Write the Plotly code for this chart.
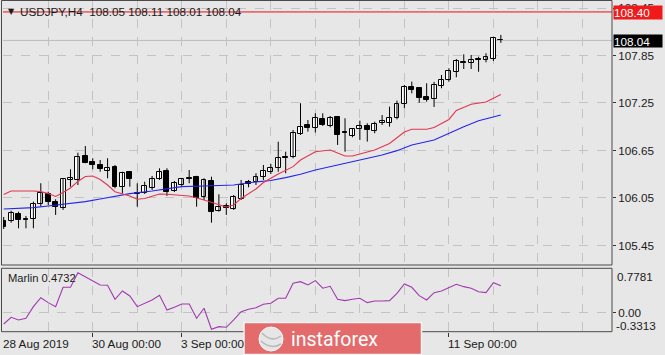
import plotly.graph_objects as go

# ---------------- data ----------------
symbol = "USDJPY,H4"
bar_index = list(range(68))

opens = [105.764, 105.760, 105.848, 105.781, 105.785, 105.974, 106.097, 106.004, 105.920, 106.278,
         106.278, 106.581, 106.509, 106.467, 106.395, 106.446, 106.193, 106.375, 106.105, 106.117,
         106.173, 106.286, 106.385, 106.142, 106.211, 106.305, 106.319, 106.067, 106.265, 105.886,
         105.949, 105.908, 106.034, 106.246, 106.256, 106.312, 106.375, 106.433, 106.566, 106.572,
         106.859, 106.972, 106.931, 107.044, 106.960, 107.077, 106.878, 106.833, 106.918, 106.960,
         106.901, 106.994, 107.001, 107.057, 107.238, 107.448, 107.435, 107.329, 107.301, 107.471,
         107.537, 107.646, 107.774, 107.752, 107.802, 107.793, 107.806, 108.05]
highs = [105.810, 105.890, 105.877, 105.823, 106.004, 106.236, 106.130, 106.034, 106.299, 106.413,
         106.622, 106.707, 106.552, 106.530, 106.552, 106.467, 106.382, 106.382, 106.236, 106.256,
         106.328, 106.425, 106.425, 106.265, 106.303, 106.404, 106.330, 106.299, 106.319, 106.097,
         105.983, 106.088, 106.278, 106.278, 106.362, 106.467, 106.480, 106.761, 106.635, 106.909,
         107.247, 107.035, 107.120, 107.120, 107.086, 107.085, 107.057, 106.931, 107.027, 106.994,
         107.014, 107.098, 107.204, 107.280, 107.478, 107.520, 107.440, 107.499, 107.516, 107.604,
         107.689, 107.806, 107.865, 107.856, 107.835, 107.878, 108.087, 108.11]
lows = [105.659, 105.738, 105.667, 105.667, 105.667, 105.940, 105.962, 105.836, 105.899, 106.193,
        106.214, 106.489, 106.413, 106.382, 106.299, 106.173, 106.110, 106.193, 105.940, 106.101,
        106.151, 106.278, 106.076, 106.126, 106.202, 106.236, 105.940, 106.025, 105.738, 105.877,
        105.836, 105.899, 106.025, 106.185, 106.214, 106.278, 106.353, 106.382, 106.362, 106.552,
        106.846, 106.889, 106.877, 106.960, 106.943, 106.720, 106.635, 106.817, 106.783, 106.762,
        106.868, 106.972, 106.951, 107.044, 107.183, 107.372, 107.254, 107.267, 107.200, 107.436,
        107.520, 107.575, 107.679, 107.679, 107.645, 107.764, 107.781, 108.01]
closes = [105.680, 105.865, 105.772, 105.769, 105.974, 106.110, 106.004, 105.940, 106.286, 106.299,
          106.572, 106.496, 106.467, 106.413, 106.425, 106.193, 106.370, 106.286, 106.117, 106.202,
          106.286, 106.382, 106.126, 106.236, 106.286, 106.293, 106.046, 106.278, 105.877, 105.940,
          105.920, 106.059, 106.214, 106.233, 106.312, 106.391, 106.425, 106.552, 106.553, 106.868,
          106.951, 106.931, 107.057, 106.972, 107.057, 106.846, 106.865, 106.918, 106.960, 106.910,
          106.985, 107.027, 107.057, 107.238, 107.456, 107.414, 107.309, 107.288, 107.478, 107.541,
          107.658, 107.785, 107.761, 107.793, 107.787, 107.827, 108.067, 108.04]

ma_fast_idx = [0, 1, 4, 5, 6, 7, 8, 9, 10, 11, 12, 13, 14, 15, 17, 18, 19, 21, 22, 24, 25, 27, 28,
               30, 31, 32, 34, 35, 37, 39, 40, 42, 44, 46, 47, 50, 52, 54, 55, 57, 58, 60, 61, 63,
               65, 66, 67]
ma_fast = [106.093, 106.139, 106.139, 106.130, 106.107, 106.069, 106.120, 106.177, 106.259, 106.322,
           106.328, 106.284, 106.214, 106.130, 106.076, 106.034, 106.044, 106.101, 106.097, 106.088,
           106.076, 106.025, 105.993, 105.937, 105.962, 106.044, 106.164, 106.246, 106.353, 106.446,
           106.530, 106.635, 106.656, 106.581, 106.581, 106.656, 106.738, 106.884, 106.918, 106.918,
           106.941, 107.042, 107.155, 107.234, 107.263, 107.309, 107.357]

ma_slow_idx = [0, 2, 4, 6, 8, 11, 13, 15, 17, 20, 22, 24, 27, 29, 31, 33, 36, 38, 40, 42, 44, 48,
               51, 53, 55, 58, 60, 62, 64, 67]
ma_slow = [105.911, 105.920, 105.928, 105.949, 105.970, 106.004, 106.038, 106.072, 106.105, 106.139,
           106.164, 106.193, 106.202, 106.211, 106.214, 106.243, 106.271, 106.307, 106.350, 106.404,
           106.446, 106.530, 106.593, 106.648, 106.720, 106.783, 106.868, 106.951, 107.027, 107.099]

marlin = [-0.196, -0.079, -0.126, -0.096, 0.107, 0.264, 0.177, 0.107, 0.446, 0.446,
          0.702, 0.632, 0.562, 0.486, 0.481, 0.236, 0.381, 0.294, 0.107, 0.166,
          0.224, 0.306, 0.049, 0.096, 0.154, 0.154, -0.096, 0.079, -0.289, -0.243,
          -0.254, -0.126, 0.019, 0.061, 0.089, 0.149, 0.166, 0.254, 0.254, 0.516,
          0.544, 0.486, 0.562, 0.429, 0.463, 0.236, 0.212, 0.236, 0.254, 0.177,
          0.206, 0.206, 0.212, 0.341, 0.504, 0.446, 0.299, 0.224, 0.352, 0.381,
          0.434, 0.499, 0.457, 0.429, 0.369, 0.352, 0.527, 0.4732]
marlin_max, marlin_min = 0.7781, -0.3313

price_ticks = [105.45, 106.05, 106.65, 107.25, 107.85, 108.45]
price_ticktext = ["105.45", "106.05", "106.65", "107.25", "107.85", "108.45"]
alert_level = 108.40
alert_text = "108.40"

# time-axis tick marks (every 2 trading days) and the labels visible in the reference
date_tick_idx = [12, 24, 36, 48, 60]
date_label_idx = [0, 12, 24, 60]
date_labels = ["28 Aug 2019", "30 Aug 00:00", "3 Sep 00:00", "11 Sep 00:00"]
grid_idx = [6, 12, 18, 24, 30, 36, 42, 48, 54, 60, 66, 72, 78]

# ---------------- layout helpers ----------------
W, H = 665, 355
def px(x):
    return x / W
def py(y):
    return 1 - y / H

BG = "#E7E7E7"
GRID = "#C3C3C3"
TXT = "#1A1A1A"
FONT = "Liberation Sans, Arial, sans-serif"
FS = 11.7

XR = [-0.094, 81.98]

fig = go.Figure()

# wicks
wx, wy = [], []
for i, h, l in zip(bar_index, highs, lows):
    wx += [i, i, None]
    wy += [l, h, None]
fig.add_trace(go.Scatter(x=wx, y=wy, mode="lines", line=dict(color="black", width=1),
                         hoverinfo="skip", xaxis="x", yaxis="y"))

# moving averages
fig.add_trace(go.Scatter(x=ma_slow_idx, y=ma_slow, mode="lines",
                         line=dict(color="#2525EE", width=1.1), hoverinfo="skip"))
fig.add_trace(go.Scatter(x=ma_fast_idx, y=ma_fast, mode="lines",
                         line=dict(color="#E43550", width=1.1), hoverinfo="skip"))

# bodies
base = [min(o, c) for o, c in zip(opens, closes)]
height = [max(abs(c - o), 0.012) for o, c in zip(opens, closes)]
colors = ["white" if c >= o else "black" for o, c in zip(opens, closes)]
fig.add_trace(go.Bar(x=bar_index, y=height, base=base, width=0.66,
                     marker=dict(color=colors, line=dict(color="black", width=1)),
                     hoverinfo="skip", xaxis="x", yaxis="y"))

# Marlin oscillator
fig.add_trace(go.Scatter(x=bar_index, y=marlin, mode="lines",
                         line=dict(color="#A03AAE", width=1.1), hoverinfo="skip",
                         xaxis="x2", yaxis="y2"))

main_top_px, main_bot_px = 1, 265
ind_top_px, ind_bot_px = 268.3, 331.7
p_per_px = 0.012632
y_top = 108.551 - p_per_px * main_top_px
y_bot = 108.551 - p_per_px * main_bot_px

fig.update_layout(
    width=W, height=H, margin=dict(l=0, r=0, t=0, b=0),
    paper_bgcolor=BG, plot_bgcolor=BG, showlegend=False, bargap=0,
    font=dict(family=FONT, size=FS, color=TXT),
    xaxis=dict(domain=[px(3), px(612)], range=XR, anchor="y", showticklabels=False,
               ticks="", tickmode="array", tickvals=grid_idx, showgrid=True, gridcolor=GRID,
               griddash="dash", gridwidth=1, zeroline=False, showline=False, fixedrange=True),
    xaxis2=dict(domain=[px(3), px(612)], range=XR, anchor="y2", matches="x",
                showticklabels=False, tickmode="array", tickvals=date_tick_idx,
                ticks="outside", ticklen=4, tickcolor="#333", tickwidth=1,
                showgrid=True, gridcolor=GRID, griddash="dash", gridwidth=1,
                minor=dict(tickmode="array", tickvals=[v for v in grid_idx if v not in date_tick_idx],
                           showgrid=True, gridcolor=GRID, griddash="dash", gridwidth=1, ticks=""),
                zeroline=False, showline=False, fixedrange=True),
    yaxis=dict(domain=[py(main_bot_px), py(main_top_px)], range=[y_bot, y_top], anchor="x",
               side="right", tickmode="array", tickvals=price_ticks, ticktext=price_ticktext,
               ticks="outside", ticklen=3, tickcolor="#333", showgrid=True, gridcolor=GRID,
               griddash="dash", gridwidth=1, zeroline=False, showline=False,
               tickfont=dict(family=FONT, size=FS, color=TXT), fixedrange=True),
    yaxis2=dict(domain=[py(ind_bot_px), py(ind_top_px)], range=[marlin_min, marlin_max],
                anchor="x2", side="right", tickmode="array", tickvals=[0], ticktext=["0.00"],
                ticks="outside", ticklen=3, tickcolor="#333", showgrid=True, gridcolor=GRID,
                griddash="dash", gridwidth=1, zeroline=False, showline=False,
                tickfont=dict(family=FONT, size=FS, color=TXT), fixedrange=True),
)

shapes = [
    dict(type="line", xref="paper", yref="y", x0=px(3), x1=px(612), y0=closes[-1], y1=closes[-1],
         line=dict(color="#BDBDBD", width=1), layer="below"),
    dict(type="line", xref="paper", yref="y", x0=px(3), x1=px(612), y0=alert_level, y1=alert_level,
         line=dict(color="#E8101A", width=1), layer="above"),
    dict(type="rect", xref="paper", yref="paper", x0=px(1.5), x1=px(612), y0=py(main_bot_px), y1=py(0.5),
         line=dict(color="#4A4A4A", width=1), layer="above"),
    dict(type="rect", xref="paper", yref="paper", x0=px(1.5), x1=px(612), y0=py(ind_bot_px), y1=py(ind_top_px),
         line=dict(color="#4A4A4A", width=1), layer="above"),
    # watermark banner and logo
    dict(type="rect", xref="paper", yref="paper", x0=px(244), x1=px(421.5), y0=py(354.5), y1=py(322.5),
         fillcolor="#E36B6C", line=dict(color="#F4F4F4", width=1.5), layer="above"),
    dict(type="circle", xref="paper", yref="paper", x0=px(259), x1=px(283), y0=py(351), y1=py(327),
         fillcolor="#E6E6E6", line=dict(color="#F6F6F6", width=1), layer="above"),
    dict(type="path", xref="paper", yref="paper",
         path=f"M {px(262)},{py(333)} Q {px(271)},{py(343)} {px(281)},{py(336)}",
         line=dict(color="#B9B9B9", width=1.5), layer="above"),
    dict(type="path", xref="paper", yref="paper",
         path=f"M {px(261)},{py(341)} Q {px(271)},{py(350)} {px(281)},{py(344)}",
         line=dict(color="#B9B9B9", width=1.5), layer="above"),
]
fig.update_layout(shapes=shapes)

ann = []
ann.append(dict(xref="paper", yref="paper", x=px(6), y=py(11.5), xanchor="left", yanchor="middle",
                text="▼", showarrow=False, font=dict(family="DejaVu Sans", size=8, color=TXT)))
title = f"{symbol}  {opens[-1]:.2f} {highs[-1]:.2f} {lows[-1]:.2f} {closes[-1]:.2f}"
ann.append(dict(xref="paper", yref="paper", x=px(18), y=py(12), xanchor="left", yanchor="middle",
                text=title, showarrow=False, font=dict(family=FONT, size=FS, color=TXT)))
ann.append(dict(xref="paper", yref="paper", x=px(612.5), y=py(12.5), xanchor="left", yanchor="middle",
                text=alert_text, showarrow=False, bgcolor="#F01A1A", width=48, height=13,
                align="left", borderpad=0, font=dict(family=FONT, size=FS, color="white")))
ann.append(dict(xref="paper", yref="paper", x=px(612.5), y=py(41), xanchor="left", yanchor="middle",
                text=f"{closes[-1]:.2f}", showarrow=False, bgcolor="#000000", width=48, height=12,
                align="left", borderpad=0, font=dict(family=FONT, size=FS, color="white")))
ann.append(dict(xref="paper", yref="paper", x=px(6), y=py(278), xanchor="left", yanchor="middle",
                text=f"Marlin {marlin[-1]:.4f}", showarrow=False, font=dict(family=FONT, size=11.2, color=TXT)))
ann.append(dict(xref="paper", yref="paper", x=px(615), y=py(276), xanchor="left", yanchor="middle",
                text=f"{marlin_max:.4f}", showarrow=False, font=dict(family=FONT, size=FS, color=TXT)))
ann.append(dict(xref="paper", yref="paper", x=px(614), y=py(325.5), xanchor="left", yanchor="middle",
                text=f"{marlin_min:.4f}", showarrow=False, font=dict(family=FONT, size=FS, color=TXT)))
for i, lab in zip(date_label_idx, date_labels):
    ann.append(dict(xref="x2", yref="paper", x=i, y=py(343.5), xanchor="left", yanchor="middle",
                    xshift=-3, text=lab, showarrow=False, font=dict(family=FONT, size=FS, color=TXT)))
ann.append(dict(xref="paper", yref="paper", x=px(289), y=py(339), xanchor="left", yanchor="middle",
                text="instaforex", showarrow=False, font=dict(family="Roboto", size=19.5, color="white")))
fig.update_layout(annotations=ann)

fig.write_html("out.html")
